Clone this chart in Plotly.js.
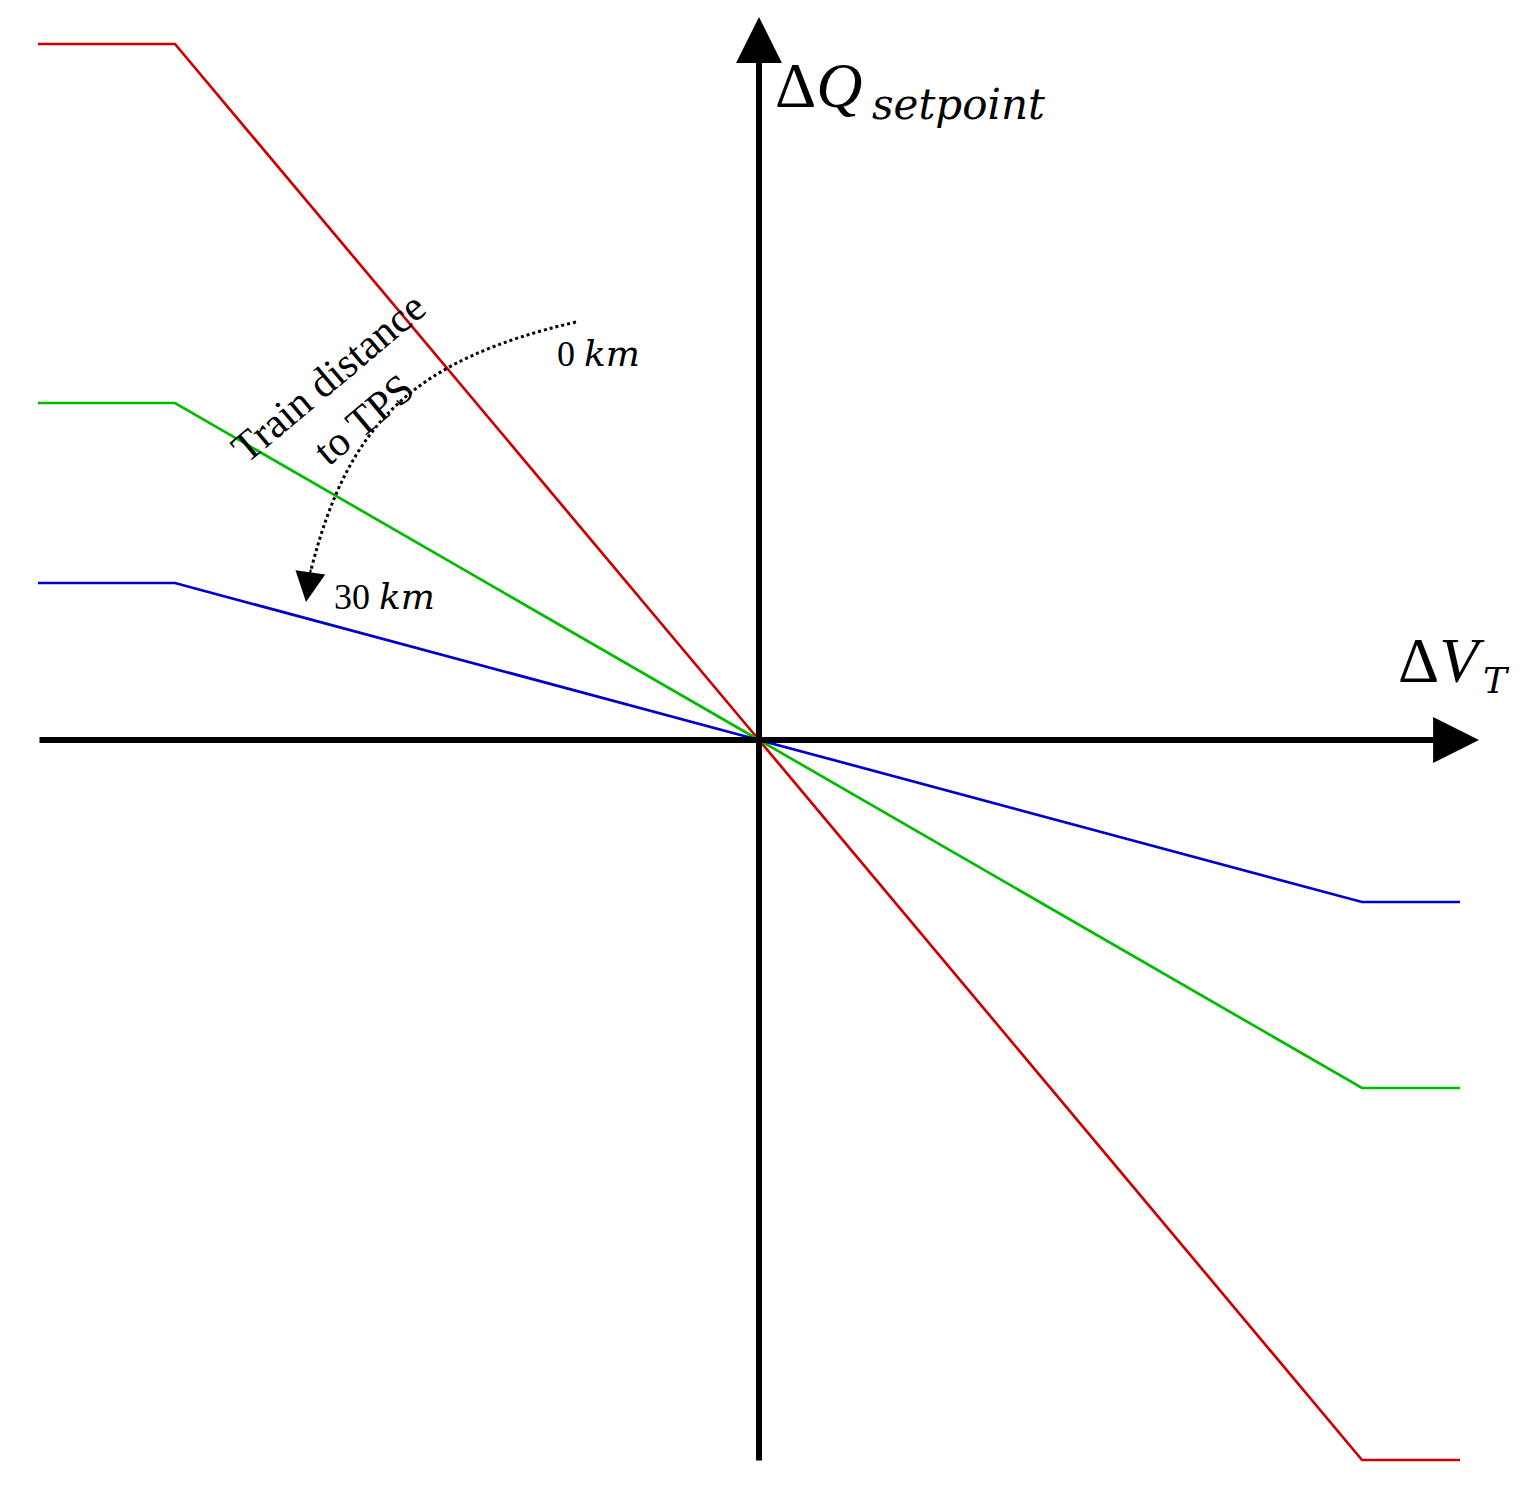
<!DOCTYPE html>
<html>
<head>
<meta charset="utf-8">
<script src="https://cdn.plot.ly/plotly-3.0.1.min.js"></script>
<style>
  body { margin: 0; background: #fff; }
  #chart { width: 1530px; height: 1492px; }
</style>
</head>
<body>
<div id="chart"></div>
<script>
// piecewise droop curves (x = ΔV_T, y = ΔQ_setpoint), arbitrary units
const dV = [-7.21, -5.84, 0, 6.03, 7.01];
const qNear = [6.96, 6.96, 0, -7.20, -7.20];   // 0 km
const qMid = [3.37, 3.37, 0, -3.48, -3.48];
const qFar = [1.57, 1.57, 0, -1.62, -1.62];    // 30 km

// axis extents
const xAxisEnds = [-7.21, 7.20];
const yAxisEnds = [-7.22, 7.23];

// dotted "distance" arc: start, two controls, end, then the arrow tip
const arcX = [-1.83, -3.44, -4.105, -4.48];
const arcY = [4.18, 3.805, 3.185, 1.70];
const arcTip = [-4.53, 1.38];

const serif = 'Liberation Serif, Times New Roman, serif';
const mathItalic = 'DejaVu Serif, serif';

const traces = [
    { x: dV, y: qNear, mode: 'lines', line: { color: '#cc0000', width: 2.7 }, hoverinfo: 'skip' },
    { x: dV, y: qMid, mode: 'lines', line: { color: '#00bb00', width: 2.7 }, hoverinfo: 'skip' },
    { x: dV, y: qFar, mode: 'lines', line: { color: '#0000cc', width: 2.7 }, hoverinfo: 'skip' },
];

const arcPath = 'M' + arcX[0] + ',' + arcY[0] +
    ' C' + arcX[1] + ',' + arcY[1] + ' ' + arcX[2] + ',' + arcY[2] + ' ' + arcX[3] + ',' + arcY[3];

const axisArrow = (x, y, ax, ay) => ({
    x: x, y: y, ax: ax, ay: ay,
    xref: 'x', yref: 'y', axref: 'x', ayref: 'y',
    text: '', showarrow: true,
    arrowhead: 2, arrowwidth: 6, arrowsize: 1.53, arrowcolor: '#000',
});

const label = (x, y, text, family, size, extra) => Object.assign({
    x: x, y: y, xanchor: 'left', yanchor: 'middle', showarrow: false,
    text: text, font: { family: family, size: size, color: '#000' },
}, extra || {});

const layout = {
    width: 1530,
    height: 1492,
    paper_bgcolor: '#fff',
    plot_bgcolor: '#fff',
    margin: { t: 0, l: 0, r: 0, b: 0 },
    showlegend: false,
    xaxis: { range: [-7.59, 7.71], visible: false, fixedrange: true },
    yaxis: { range: [-7.52, 7.40], visible: false, fixedrange: true },
    shapes: [
        {
            type: 'path', path: arcPath, xref: 'x', yref: 'y',
            line: { color: '#000', width: 3, dash: 'dot' },
        },
    ],
    annotations: [
        axisArrow(xAxisEnds[1], 0, xAxisEnds[0], 0),
        axisArrow(0, yAxisEnds[1], 0, yAxisEnds[0]),
        {
            x: arcTip[0], y: arcTip[1], ax: arcX[3], ay: arcY[3] + 0.02,
            xref: 'x', yref: 'y', axref: 'x', ayref: 'y',
            text: '', showarrow: true,
            arrowhead: 2, arrowwidth: 2, arrowsize: 3, arrowcolor: '#000',
        },
        // axis titles: main symbol, then the subscript as its own text
        label(0.14, 6.55, 'Δ<i>Q</i>', serif, 64),
        label(1.11, 6.36, '<i>setpoint</i>', mathItalic, 42),
        label(6.37, 0.80, 'Δ<i>V</i>', serif, 64),
        label(7.22, 0.60, '<i>T</i>', mathItalic, 36),
        // distance marks
        label(-2.04, 3.87, '0 <span style="font-family:DejaVu Serif"><i>km</i></span>', serif, 36),
        label(-4.27, 1.44, '30 <span style="font-family:DejaVu Serif"><i>km</i></span>', serif, 36),
        label(-4.13, 3.42, 'Train distance<br>to TPS', serif, 42, { xanchor: 'center', textangle: -40 }),
    ],
};

Plotly.newPlot('chart', traces, layout, { staticPlot: true });
</script>
</body>
</html>
